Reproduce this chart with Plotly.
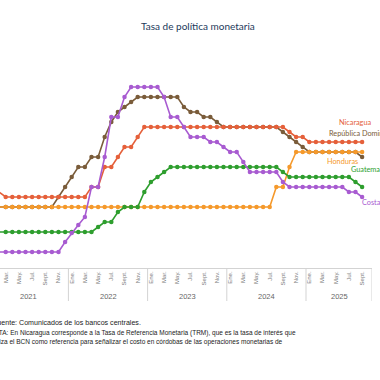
import plotly.graph_objects as go

# ---------------- data (monthly, Jan 2021 .. Sep 2025) ----------------
years = [2021, 2022, 2023, 2024, 2025]
month_abbr = ["Ene.", "Feb.", "Mar.", "Abr.", "May.", "Jun.",
              "Jul.", "Ago.", "Sept.", "Oct.", "Nov.", "Dic."]
months_2025_on_axis = 10  # Ene.–Oct. 2025 shown on the axis

costa_rica = ([0.75] * 11 + [1.25, 1.7, 2.1, 2.5, 4.0, 4.0, 5.5, 7.5, 7.5, 8.5]
              + [9.0] * 5 + [8.5, 7.5, 7.5, 7.0] + [6.5] * 3 + [6.25] * 2 + [6.0]
              + [5.75] * 2 + [5.25] + [4.75] * 5 + [4.25] + [4.0] * 9
              + [3.75] * 2 + [3.5])
nicaragua = ([3.75] * 2 + [3.5] * 13 + [4.0] * 2 + [5.0] * 2 + [5.5] + [6.0] * 2
             + [6.5] + [7.0] * 22 + [6.75] + [6.5] * 2 + [6.25] * 9)
rep_dominicana = ([3.0] * 10 + [3.5, 4.0, 4.5] + [5.0] * 2 + [5.5] * 2
                  + [6.5, 7.25, 7.75, 8.0, 8.25] + [8.5] * 7 + [8.0] + [7.75] * 2
                  + [7.5] * 2 + [7.25] + [7.0] * 9 + [6.75, 6.5, 6.25, 6.0]
                  + [5.75] * 8 + [5.5])
honduras = [3.0] * 43 + [4.0] * 2 + [5.0] + [5.75] * 11
guatemala = ([1.75] * 16 + [2.0] + [2.25] * 2 + [2.75] + [3.0] * 3
             + [3.75, 4.25, 4.5, 4.75] + [5.0] * 17 + [4.75] + [4.5] * 10
             + [4.25, 4.0])

series = [
    ("República Dominicana", rep_dominicana, "#7a5c3a"),
    ("Honduras", honduras, "#f5992b"),
    ("Nicaragua", nicaragua, "#e5603a"),
    ("Guatemala", guatemala, "#2e9e2e"),
    ("Costa Rica", costa_rica, "#a85bd1"),
]

title_text = "Tasa de política monetaria"
source_text = "Fuente: Comunicados de los bancos centrales."
note_line1 = ("NOTA: En Nicaragua corresponde a la Tasa de Referencia Monetaria (TRM), "
              "que es la tasa de interés que")
note_line2 = ("utiliza el BCN como referencia para señalizar el costo en córdobas "
              "de las operaciones monetarias de")

# ---------------- figure ----------------
W, H = 380, 380
L, R, T, B = 0, 8, 68, 112
plot_w = W - L - R
plot_h = H - T - B

n_axis = 12 * (len(years) - 1) + months_2025_on_axis
x_end = n_axis - 0.5
x_start = x_end - plot_w / 6.6

fig = go.Figure()
for name, vals, col in series:
    fig.add_trace(go.Scatter(
        x=list(range(len(vals))), y=vals, name=name, mode="lines+markers",
        line=dict(color=col, width=1.6),
        marker=dict(color=col, size=4.5),
        cliponaxis=False, showlegend=False, hoverinfo="skip"))

tickvals, ticktext = [], []
for yi, yr in enumerate(years):
    nm = 12 if yi < len(years) - 1 else months_2025_on_axis
    for mi in range(0, nm, 2):
        tickvals.append(12 * yi + mi)
        ticktext.append(month_abbr[mi])

def px_to_paper_x(px):
    return (px - L) / plot_w

def py_to_paper_y(py):
    return (T + plot_h - py) / plot_h

shapes = []
annotations = []
for yi, yr in enumerate(years):
    start = 12 * yi - 0.5
    end = min(12 * (yi + 1) - 0.5, x_end)
    if yi > 0:
        shapes.append(dict(type="line", xref="x", yref="paper", x0=start, x1=start,
                           y0=0, y1=py_to_paper_y(301), line=dict(color="#d3d3d3", width=1)))
    annotations.append(dict(xref="x", yref="paper", x=(start + end) / 2,
                            y=py_to_paper_y(296.5), text=str(yr), showarrow=False,
                            font=dict(family="Liberation Sans", size=7.5, color="#666666"),
                            xanchor="center", yanchor="middle"))
shapes.append(dict(type="line", xref="x", yref="paper", x0=x_end, x1=x_end,
                   y0=0, y1=py_to_paper_y(301), line=dict(color="#d3d3d3", width=1)))

# series labels at the right
label_pos = {
    "Nicaragua": (337, 122.7),
    "República Dominicana": (327, 133.3),
    "Honduras": (325, 161),
    "Guatemala": (349, 169.3),
    "Costa Rica": (360, 202.7),
}
for name, vals, col in series:
    px, py = label_pos[name]
    annotations.append(dict(xref="paper", yref="paper", x=px_to_paper_x(px),
                            y=py_to_paper_y(py), text=name, showarrow=False,
                            xanchor="left", yanchor="middle",
                            font=dict(family="Lato", size=7.3, color=col)))

# title
annotations.append(dict(xref="paper", yref="paper", x=px_to_paper_x(197.5),
                        y=py_to_paper_y(26), text=title_text, showarrow=False,
                        xanchor="center", yanchor="middle",
                        font=dict(family="Lato", size=10, color="#23395b")))

# footnotes (cut at the left edge like the reference)
for txt, right_px, py, fs in [(source_text, 143, 323.3, 7.1),
                              (note_line1, 298, 333.3, 6.5),
                              (note_line2, 285, 341.7, 6.5)]:
    annotations.append(dict(xref="paper", yref="paper", x=px_to_paper_x(right_px),
                            y=py_to_paper_y(py), text=txt, showarrow=False,
                            xanchor="right", yanchor="middle",
                            font=dict(family="Liberation Sans", size=fs,
                                      color="#222222")))

fig.update_layout(
    width=W, height=H,
    margin=dict(l=L, r=R, t=T, b=B, autoexpand=False),
    paper_bgcolor="white", plot_bgcolor="white",
    xaxis=dict(range=[x_start, x_end], tickmode="array", tickvals=tickvals,
               ticktext=ticktext, tickangle=-90, ticks="", showgrid=False,
               zeroline=False, showline=True, linecolor="#d3d3d3", linewidth=1,
               tickfont=dict(family="Liberation Sans", size=6, color="#7a7a7a"),
               automargin=False),
    yaxis=dict(range=[-0.05, 9.95], visible=False, showgrid=False, zeroline=False),
    shapes=shapes, annotations=annotations,
)

fig.write_html("out.html",
               config={"displayModeBar": False},
               post_script="document.body.style.margin='0';"
                           "document.body.style.overflow='hidden';")
